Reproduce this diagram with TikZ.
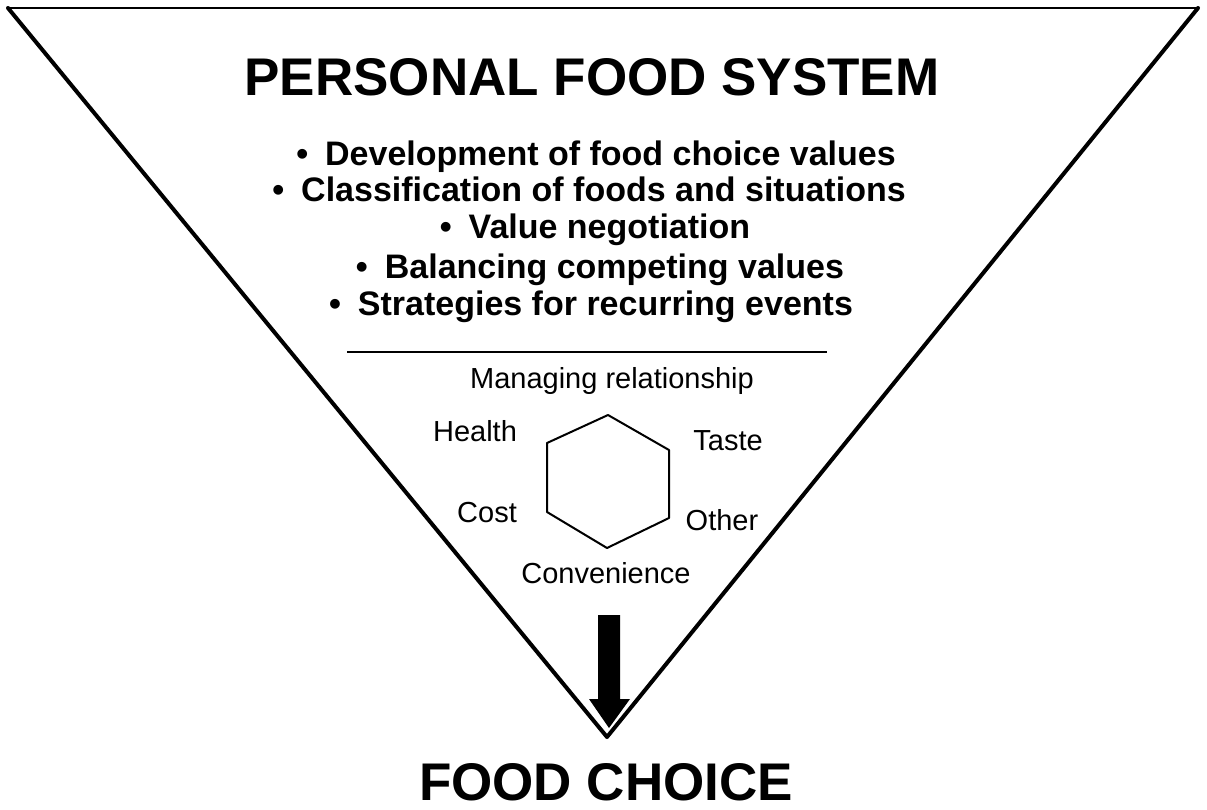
\documentclass[tikz,border=0pt]{standalone}
\usepackage{fontspec}
\setmainfont{Liberation Sans}
\begin{document}
\begin{tikzpicture}[x=1pt,y=-1pt,
  boldtitle/.style={font=\fontsize{53}{60}\selectfont\bfseries, inner sep=0pt, anchor=base},
  pointline/.style={font=\fontsize{34}{40}\selectfont\bfseries, inner sep=0pt, anchor=base},
  plainlabel/.style={font=\fontsize{29}{34}\selectfont, inner sep=0pt, anchor=base},
  edge/.style={line width=4pt, line cap=round, line join=round},
  rim/.style={line width=2.5pt},
  hexline/.style={line width=2pt, line join=round}]
\newcommand{\pt}{•\hspace{0.5em}}
\useasboundingbox (0,0) rectangle (1207,809);
% the inverted triangle
\coordinate (tl) at (8,8);
\coordinate (tr) at (1198,8);
\coordinate (apex) at (607,737);
\draw[rim] (tl) -- (tr);
\draw[edge] (tl) -- (apex) -- (tr);
% heading and bullet points
\node[boldtitle] (title) at (592,95) {PERSONAL FOOD SYSTEM};
\node[pointline] (p1) at (596,165) {\pt Development of food choice values};
\node[pointline] (p2) at (589,201) {\pt Classification of foods and situations};
\node[pointline] (p3) at (595,238) {\pt Value negotiation};
\node[pointline] (p4) at (600,278) {\pt Balancing competing values};
\node[pointline] (p5) at (591,315) {\pt Strategies for recurring events};
% divider
\coordinate (dl) at (347,352);
\coordinate (dr) at (827,352);
\draw[line width=1.5pt] (dl) -- (dr);
\node[plainlabel] (mr) at (612,388) {Managing relationship};
% hexagon of values
\coordinate (h1) at (608,415);
\coordinate (h2) at (669,450);
\coordinate (h3) at (669,518);
\coordinate (h4) at (607,548);
\coordinate (h5) at (547,512);
\coordinate (h6) at (547,443);
\draw[hexline] (h1) -- (h2) -- (h3) -- (h4) -- (h5) -- (h6) -- cycle;
\node[plainlabel] (health) at (475,441) {Health};
\node[plainlabel] (taste) at (728,450) {Taste};
\node[plainlabel] (cost) at (487,522) {Cost};
\node[plainlabel] (other) at (722,530) {Other};
\node[plainlabel] (conv) at (606,583) {Convenience};
% arrow into the apex
\coordinate (at) at (609,728);
\fill (598,615) -- (620,615) -- (620,699) -- (630,699) -- (at) -- (589,699) -- (598,699) -- cycle;
% outcome
\node[boldtitle] (choice) at (606,800) {FOOD CHOICE};
\end{tikzpicture}
\end{document}
